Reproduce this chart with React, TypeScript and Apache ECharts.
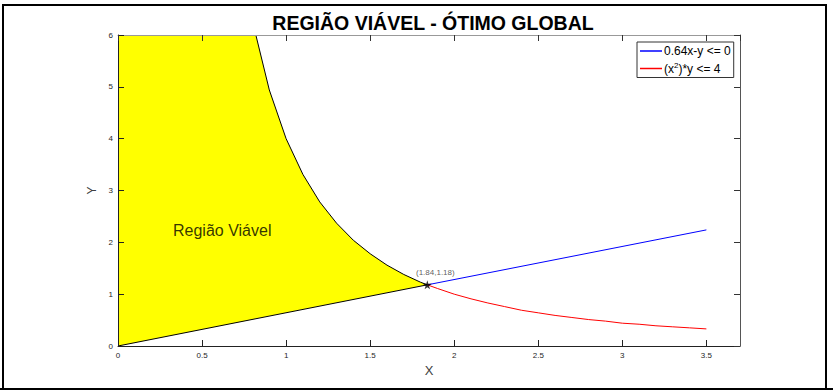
import React, { useEffect, useRef } from "react";
import * as echarts from "echarts";

// Boundary of the feasible region: curve (x^2)*y = 4
const curveX = [0.82, 0.9, 1.0, 1.1, 1.2, 1.3, 1.4, 1.5, 1.6, 1.7, 1.8, 1.84];
const curveY = [6.0, 4.94, 4.0, 3.31, 2.78, 2.37, 2.04, 1.78, 1.56, 1.38, 1.23, 1.18];
// Lower boundary: 0.64x - y = 0 inside the region
const lowerX = [0, 1.84];
const lowerY = [0, 1.18];
// Blue constraint line beyond the optimum
const blueX = [1.84, 3.5];
const blueY = [1.18, 2.24];
// Red constraint curve beyond the optimum
const redX = [1.84, 1.9, 2.0, 2.1, 2.2, 2.3, 2.4, 2.5, 2.6, 2.7, 2.8, 2.9, 3.0, 3.1, 3.2, 3.3, 3.4, 3.5];
const redY = [1.18, 1.11, 1.0, 0.91, 0.83, 0.76, 0.69, 0.64, 0.59, 0.55, 0.51, 0.48, 0.44, 0.42, 0.39, 0.37, 0.35, 0.33];
// Optimum point
const optimumX = 1.84;
const optimumY = 1.18;
const optimumLabel = "(1.84,1.18)";
// Region label
const regionLabel = "Região Viável";
const regionLabelX = 0.62;
const regionLabelY = 2.22;
// Axes
const xMin = 0, xMax = 3.7, xInterval = 0.5;
const yMin = 0, yMax = 6, yInterval = 1;
const titleText = "REGIÃO VIÁVEL - ÓTIMO GLOBAL";
const blueName = "0.64x-y <= 0";
const redName = "(x^2)*y <= 4";

const zip = (xs: number[], ys: number[]) => xs.map((x, i) => [x, ys[i]]);

const FONT = "Liberation Sans";
const STAR = "path://M50,0 L61,35 L98,35 L68,57 L79,91 L50,70 L21,91 L32,57 L2,35 L39,35 Z";

export default function App() {
  const ref = useRef<HTMLDivElement>(null);
  useEffect(() => {
    document.body.style.margin = "0";
    const chart = echarts.init(ref.current!, null, { renderer: "svg" });
    const polygonPts: number[][] = [[0, 0], [0, yMax], ...zip(curveX, curveY)];
    const tickLabel = { fontFamily: FONT, fontSize: 8, color: "#262626" };
    chart.setOption({
      animation: false,
      backgroundColor: "#fff",
      title: {
        text: titleText,
        left: 428,
        textAlign: "center",
        top: 8,
        textStyle: { fontFamily: FONT, fontWeight: "bold", fontSize: 19.5, color: "#000" },
      },
      grid: { left: 118, right: 93, top: 35, bottom: 46 },
      legend: {
        orient: "vertical",
        left: 637,
        top: 42,
        data: [blueName, redName],
        icon: "rect",
        itemWidth: 22,
        itemHeight: 1.5,
        itemGap: 4,
        padding: [3, 3, 3, 3],
        borderColor: "#333",
        borderWidth: 1,
        backgroundColor: "#fff",
        formatter: (n: string) => (n === redName ? "(x{sup|2})*y <= 4" : n),
        textStyle: {
          fontFamily: FONT,
          fontSize: 12,
          color: "#000",
          padding: [0, 0, 0, -3],
          rich: { sup: { fontFamily: FONT, fontSize: 8, verticalAlign: "bottom", padding: [0, 0, 7, 0] } },
        },
      },
      xAxis: [
        {
          type: "value", min: xMin, max: xMax, interval: xInterval, z: 5,
          name: "X", nameLocation: "middle", nameGap: 15,
          nameTextStyle: { fontFamily: FONT, fontSize: 13, color: "#404040" },
          axisLine: { show: true, lineStyle: { color: "#222", width: 1 } },
          axisTick: { show: true, inside: true, length: 6, lineStyle: { color: "#222" } },
          axisLabel: { ...tickLabel, margin: 5, showMaxLabel: false, formatter: (v: number) => (v > 3.5 ? "" : String(v)) },
          splitLine: { show: false },
        },
        {
          type: "value", position: "top", min: xMin, max: xMax, interval: xInterval, z: 5,
          axisLine: { show: true, onZero: false, lineStyle: { color: "#999", width: 1 } },
          axisTick: { show: true, inside: true, length: 6, lineStyle: { color: "#333" } },
          axisLabel: { show: false },
          splitLine: { show: false },
        },
      ],
      yAxis: [
        {
          type: "value", min: yMin, max: yMax, interval: yInterval, z: 5,
          name: "Y", nameLocation: "middle", nameGap: 13,
          nameTextStyle: { fontFamily: FONT, fontSize: 12, color: "#404040" },
          axisLine: { show: true, lineStyle: { color: "#222", width: 1 } },
          axisTick: { show: true, inside: true, length: 6, lineStyle: { color: "#222" } },
          axisLabel: { ...tickLabel, margin: 5 },
          splitLine: { show: false },
        },
        {
          type: "value", position: "right", min: yMin, max: yMax, interval: yInterval, z: 5,
          axisLine: { show: true, onZero: false, lineStyle: { color: "#555", width: 1 } },
          axisTick: { show: true, inside: true, length: 6, lineStyle: { color: "#333" } },
          axisLabel: { show: false },
          splitLine: { show: false },
        },
      ],
      series: [
        {
          type: "custom",
          silent: true,
          data: [[0, 0]],
          z: 1,
          renderItem: (_p: any, api: any) => ({
            type: "polygon",
            shape: { points: polygonPts.map((p) => api.coord(p)) },
            style: { fill: "#FFFF00", stroke: "none" },
          }),
        },
        {
          type: "line", data: zip(curveX, curveY), symbol: "none", z: 3,
          lineStyle: { color: "#000", width: 1 },
        },
        {
          type: "line", data: zip(lowerX, lowerY), symbol: "none", z: 3,
          lineStyle: { color: "#000", width: 1 },
        },
        {
          name: blueName, type: "line", data: zip(blueX, blueY), symbol: "none", z: 3,
          itemStyle: { color: "#0000FF" },
          lineStyle: { color: "#0000FF", width: 1 },
        },
        {
          name: redName, type: "line", data: zip(redX, redY), symbol: "none", z: 3,
          itemStyle: { color: "#FF0000" },
          lineStyle: { color: "#FF0000", width: 1 },
        },
        {
          type: "scatter", data: [[optimumX, optimumY]], symbol: STAR, symbolSize: 9, z: 4,
          itemStyle: { color: "#000" },
          label: {
            show: true, formatter: optimumLabel, position: "top", distance: 4, offset: [8, 0],
            fontFamily: FONT, fontSize: 8, color: "#333",
          },
        },
        {
          type: "scatter", data: [[regionLabelX, regionLabelY]], symbolSize: 0, z: 4, silent: true,
          label: {
            show: true, formatter: regionLabel, position: "inside",
            fontFamily: FONT, fontSize: 16, color: "#000",
          },
        },
      ],
      graphic: [
        { type: "rect", shape: { x: 3, y: 5, width: 823, height: 384 }, style: { fill: "none", stroke: "#000", lineWidth: 2 }, z: 10 },
        { type: "line", shape: { x1: 0, y1: 389, x2: 833, y2: 389 }, style: { stroke: "#000", lineWidth: 2 }, z: 10 },
      ],
    });
    return () => chart.dispose();
  }, []);
  return <div ref={ref} style={{ width: 833, height: 392, position: "absolute", left: 0, top: 0 }} />;
}
